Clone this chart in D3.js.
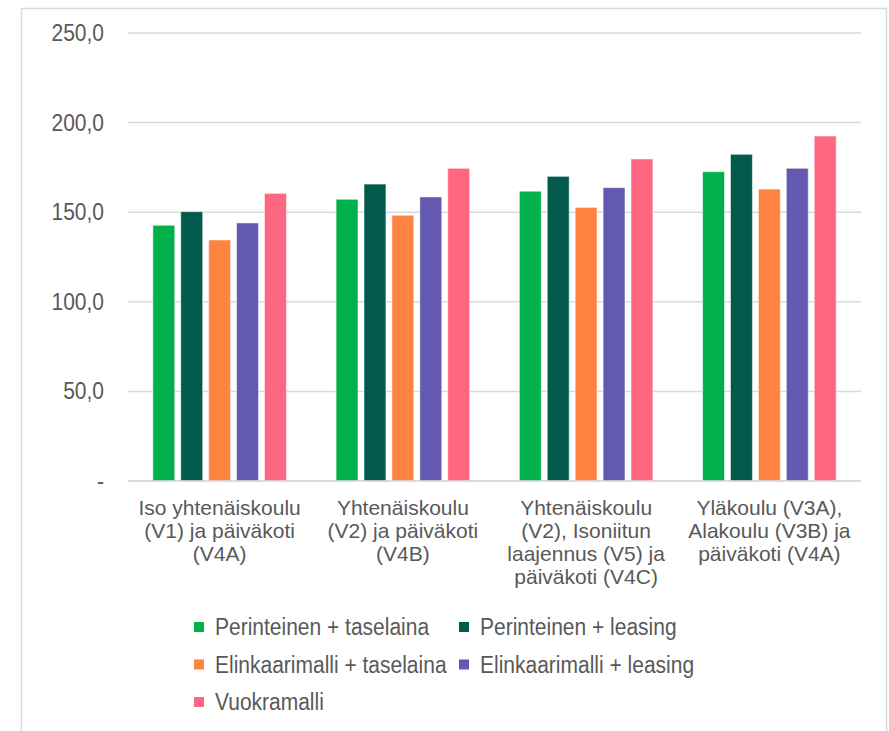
<!DOCTYPE html>
<html>
<head>
<meta charset="utf-8">
<script src="https://cdn.jsdelivr.net/npm/d3@7"></script>
<style>
  html, body { margin: 0; padding: 0; background: #fff; }
  svg { display: block; font-family: "Liberation Sans", Arial, sans-serif; }
</style>
</head>
<body>
<svg id="chart" width="889" height="731"></svg>
<script>
// Building alternatives (one group per line-broken label)
const categories = [
  ["Iso yhtenäiskoulu", "(V1) ja päiväkoti", "(V4A)"],
  ["Yhtenäiskoulu", "(V2) ja päiväkoti", "(V4B)"],
  ["Yhtenäiskoulu", "(V2), Isoniitun", "laajennus (V5) ja", "päiväkoti (V4C)"],
  ["Yläkoulu (V3A),", "Alakoulu (V3B) ja", "päiväkoti (V4A)"]
];

// Financing models
const seriesNames = [
  "Perinteinen + taselaina",
  "Perinteinen + leasing",
  "Elinkaarimalli + taselaina",
  "Elinkaarimalli + leasing",
  "Vuokramalli"
];
const seriesColors = ["#00B04A", "#015A4C", "#FF8442", "#6459B0", "#FF6681"];

// Values per model, one per building alternative
const perinteinenTaselaina   = [142.7, 157.2, 161.7, 172.6];
const perinteinenLeasing     = [150.3, 165.7, 170.0, 182.3];
const elinkaariTaselaina     = [134.5, 148.3, 152.7, 162.9];
const elinkaariLeasing       = [144.0, 158.5, 163.7, 174.5];
const vuokramalli            = [160.5, 174.5, 179.7, 192.5];
const seriesValues = [perinteinenTaselaina, perinteinenLeasing, elinkaariTaselaina, elinkaariLeasing, vuokramalli];

const yTicks = [0, 50, 100, 150, 200, 250];
const yTickLabels = ["-", "50,0", "100,0", "150,0", "200,0", "250,0"];

const svg = d3.select("#chart");
const textColor = "#595959";
const gridColor = "#d9d9d9";
const fontSize = 21;
const stretch = 1.1;   // slightly tall glyphs for single-line labels

// Outer frame
svg.append("rect")
  .attr("x", 21.5).attr("y", 8.5)
  .attr("width", 865).attr("height", 740)
  .attr("fill", "none").attr("stroke", gridColor).attr("stroke-width", 1.5);

const plot = { left: 128, right: 861, top: 33, bottom: 481 };

const y = d3.scaleLinear().domain([0, 250]).range([plot.bottom, plot.top]);
const x0 = d3.scaleBand().domain(d3.range(categories.length)).range([plot.left, plot.right]).padding(0);
const x1 = d3.scaleBand().domain(d3.range(seriesNames.length))
  .range([0, x0.bandwidth()]).paddingInner(0.215).paddingOuter(0.89);

// Gridlines
svg.append("g").selectAll("line")
  .data(yTicks)
  .join("line")
  .attr("x1", plot.left).attr("x2", plot.right)
  .attr("y1", d => y(d)).attr("y2", d => y(d))
  .attr("stroke", gridColor).attr("stroke-width", 1.5);

// Y tick labels
svg.append("g").selectAll("g")
  .data(yTicks)
  .join("g")
  .attr("transform", d => `translate(104,${y(d)}) scale(1,${stretch})`)
  .append("text")
  .attr("dy", "0.35em")
  .attr("text-anchor", "end")
  .attr("fill", textColor)
  .attr("font-size", fontSize)
  .text((d, i) => yTickLabels[i]);

// Bars
const groups = svg.append("g").selectAll("g")
  .data(categories.map((c, ci) => ci))
  .join("g")
  .attr("transform", ci => `translate(${x0(ci)},0)`);

groups.selectAll("rect")
  .data(ci => seriesValues.map((vals, si) => ({ si, v: vals[ci] })))
  .join("rect")
  .attr("x", d => x1(d.si))
  .attr("width", x1.bandwidth())
  .attr("y", d => y(d.v))
  .attr("height", d => y(0) - y(d.v))
  .attr("fill", d => seriesColors[d.si])
  .attr("stroke", "#ffffff")
  .attr("stroke-opacity", 0.5)
  .attr("stroke-width", 1);

// Redraw baseline above bars
svg.append("line")
  .attr("x1", plot.left).attr("x2", plot.right)
  .attr("y1", y(0)).attr("y2", y(0))
  .attr("stroke", gridColor).attr("stroke-width", 1.5);

// Category labels
const lineGap = 23;
const catText = svg.append("g").selectAll("text")
  .data(categories)
  .join("text")
  .attr("transform", (d, i) => `translate(${x0(i) + x0.bandwidth() / 2},515)`)
  .attr("text-anchor", "middle")
  .attr("fill", textColor)
  .attr("font-size", fontSize);
catText.selectAll("tspan")
  .data(d => d)
  .join("tspan")
  .attr("x", 0)
  .attr("dy", (d, i) => i === 0 ? 0 : lineGap)
  .text(d => d);

// Legend
const legendCols = [194, 459];
const legendRows = [627, 664.5, 702];
const legend = svg.append("g").selectAll("g")
  .data(seriesNames)
  .join("g")
  .attr("transform", (d, i) => `translate(${legendCols[i % 2]},${legendRows[Math.floor(i / 2)]})`);
legend.append("rect")
  .attr("x", 0).attr("y", -5)
  .attr("width", 10).attr("height", 10)
  .attr("fill", (d, i) => seriesColors[i]);
legend.append("text")
  .attr("x", 21)
  .attr("dy", "0.35em")
  .attr("transform", `scale(1,${stretch})`)
  .attr("fill", textColor)
  .attr("font-size", fontSize)
  .text(d => d);
</script>
</body>
</html>
